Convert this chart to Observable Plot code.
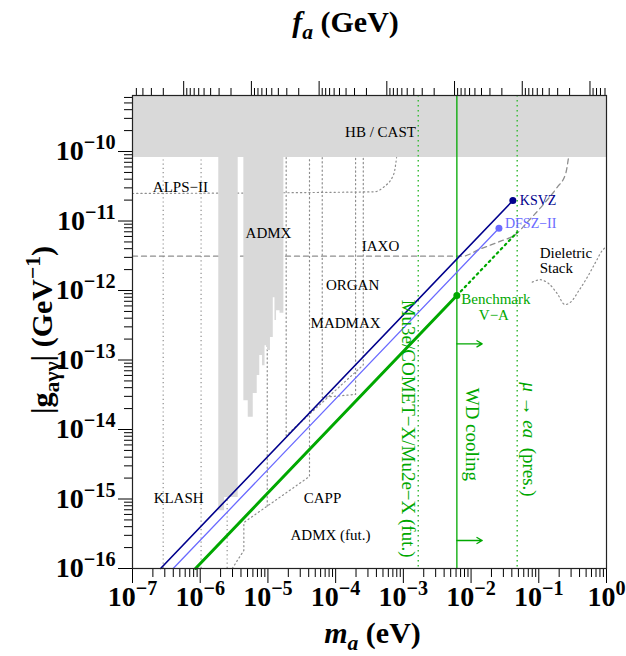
<!DOCTYPE html>
<html><head><meta charset="utf-8">
<script src="https://cdn.jsdelivr.net/npm/d3@7"></script>
<script src="https://cdn.jsdelivr.net/npm/@observablehq/plot@0.6"></script>
<style>body{margin:0;background:#fff;}</style>
</head><body><div id="chart"></div>
<script>
// ---------- scales / ticks ----------
const xDomain = [1e-7, 1];
const yDomain = [1e-16, 6.4e-10];
const mTicks = [1e-7, 1e-6, 1e-5, 1e-4, 1e-3, 1e-2, 1e-1, 1];
const gTicks = [1e-16, 1e-15, 1e-14, 1e-13, 1e-12, 1e-11, 1e-10];
const faTicks = [1e13, 1e12, 1e11, 1e10, 1e9, 1e8, 1e7];
const faToMa = 5.7e6; // m_a [eV] = 5.7e6 / f_a [GeV]

// ---------- excluded regions ----------
const hbCastG = 8.2e-11;
const admxLowM = [1.88e-6, 2.29e-6, 3.64e-6];
const admxLowG = [6.8e-16, 1.05e-15, 1.05e-15];
const admxM = [4.41e-6, 5.12e-6, 6.07e-6, 6.95e-6, 7.58e-6, 8.32e-6, 9.06e-6, 9.86e-6, 1.09e-5, 1.20e-5, 1.27e-5, 1.34e-5, 1.51e-5, 1.72e-5];
const admxG = [2.6e-14, 1.5e-14, 3.3e-14, 6.0e-14, 1.16e-13, 8.3e-14, 1.6e-13, 1.37e-13, 2.1e-13, 7.9e-13, 3.7e-13, 5.1e-13, 4.7e-13, 4.7e-13];

// ---------- projected sensitivities (gray) ----------
const klashM = [2.84e-7, 1.03e-6];
const admxFutLeftM = [2.5e-6];
const admxFutM = [2.97e-6, 4.41e-6, 4.41e-6, 4.11e-5, 4.11e-5];
const admxFutG = [1e-16, 1.82e-16, 4.59e-16, 2.11e-15, 8.2e-11];
const cappM = [9.77e-6, 9.77e-6];
const cappG = [7.9e-16, 8.2e-11];
const madmaxM = [1.86e-5, 1.86e-5, 2.56e-4, 2.56e-4];
const madmaxG = [8.2e-11, 8.2e-15, 8.5e-14, 8.2e-11];
const organM = [6.34e-5, 6.34e-5, 1.97e-4, 1.97e-4];
const organG = [8.2e-11, 2.9e-14, 3.2e-14, 8.2e-11];
const alpsM = [1e-7, 3.66e-4, 5.15e-4, 7.24e-4, 7.94e-4];
const alpsG = [2.49e-11, 2.63e-11, 3.09e-11, 4.78e-11, 8.2e-11];
const iaxoM = [1e-7, 7.41e-3, 1.38e-2, 2.73e-2, 4.54e-2, 6.76e-2, 0.119, 0.187, 0.249, 0.273];
const iaxoG = [3.12e-12, 3.12e-12, 3.98e-12, 5.13e-12, 6.4e-12, 9.6e-12, 1.77e-11, 3.06e-11, 4.78e-11, 7.85e-11];
const dielM = [0.0802, 0.106, 0.141, 0.188, 0.240, 0.295, 0.391, 0.52, 0.69, 0.867, 1];
const dielG = [1.32e-12, 1.43e-12, 1.25e-12, 8.97e-13, 6.3e-13, 6.8e-13, 1.0e-12, 1.55e-12, 2.55e-12, 3.77e-12, 4.3e-12];

// ---------- model lines ----------
const ksvzM = [2.6e-7, 0.0414];
const ksvzG = [1e-16, 1.97e-11];
const dfszM = [3.99e-7, 0.0258];
const dfszG = [1e-16, 7.87e-12];
const benchM = [8.53e-7, 6.17e-3];
const benchG = [1e-16, 8.47e-13];
const benchExtM = [6.17e-3, 0.048];
const benchExtG = [8.47e-13, 6.9e-12];

// ---------- flavour bounds (green verticals) ----------
const mu3eM = 1.66e-3;
const wdM = 6.17e-3;
const muEaM = 0.048;
const wdArrowG = [1.71e-13, 2.53e-16];
const wdArrowEndM = 0.0146;

// ---------- labels ----------
const regionText = ["HB / CAST", "ALPS−II", "ADMX", "IAXO", "ORGAN", "MADMAX", "KLASH", "CAPP", "ADMX (fut.)"];
const regionM = [4.6e-4, 5.1e-7, 1.02e-5, 4.6e-4, 1.78e-4, 1.4e-4, 4.8e-7, 6.4e-5, 8.4e-5];
const regionG = [1.88e-10, 3.03e-11, 6.6e-12, 4.3e-12, 1.18e-12, 3.35e-13, 1.02e-15, 1.02e-15, 3.0e-16];
const dielText = ["Dieletric", "Stack"];
const dielTextM = [0.103, 0.103];
const dielTextG = [3.48e-12, 2.09e-12];
const mu3eText = "Mu3e/COMET−X/Mu2e−X (fut.)";
const wdText = "WD cooling";
const muEaText = "*μ* → *ea*  (pres.)";
const mu3eTextG = 1.03e-14, wdTextG = 8.5e-15, muEaTextG = 7.2e-15;

// ---------- build ----------
const navy = "#00008c", blue = "#6a6aff", green = "#00a800", greenDot = "#3cbc3c", gray = "#8e8e8e", fillGray = "#d9d9d9";
const zip = (a, b) => a.map((v, i) => ({m: v, g: b[i]}));
const minors = (lo, hi) => { const out = []; for (let e = -20; e <= 20; e++) for (let k = 2; k <= 9; k++) { const v = k * 10 ** e; if (v > lo * 1.0001 && v < hi * 0.9999) out.push(v); } return out; };
const sup = e => `10^{${e < 0 ? "−" : ""}${Math.abs(e)}}`;
const mMinor = minors(xDomain[0], xDomain[1]);
const gMinor = minors(yDomain[0], yDomain[1]);
const faMinor = minors(faToMa / xDomain[1], faToMa / xDomain[0]).map(f => faToMa / f);
const dotted = {stroke: gray, strokeWidth: 1.2, strokeDasharray: "1.2,3"};
const hbTop = () => hbCastG;
const tickFont = {fontSize: 28, fontWeight: "bold", label: null, stroke: "black"};
const vText = (t, m, g, dx) => Plot.text([t], {x: () => m, y: () => g, rotate: 90, dx, fontSize: 19, fill: green});

const chart = Plot.plot({
  width: 626, height: 656,
  marginLeft: 132, marginRight: 20, marginTop: 95, marginBottom: 88,
  style: {fontFamily: "'Liberation Serif','Times New Roman',serif", background: "white", color: "black", overflow: "visible"},
  x: {type: "log", domain: xDomain, axis: null},
  y: {type: "log", domain: yDomain, axis: null},
  marks: [
    // gray projected sensitivities
    Plot.ruleX(klashM, {y1: () => 1e-16, y2: hbTop, ...dotted}),
    Plot.ruleX(admxFutLeftM, {y1: () => 1e-16, y2: hbTop, ...dotted}),
    Plot.line(zip(admxFutM, admxFutG), {x: "m", y: "g", ...dotted}),
    Plot.line(zip(cappM, cappG), {x: "m", y: "g", ...dotted}),
    Plot.line(zip(madmaxM, madmaxG), {x: "m", y: "g", ...dotted}),
    Plot.line(zip(organM, organG), {x: "m", y: "g", ...dotted}),
    Plot.line(zip(alpsM, alpsG), {x: "m", y: "g", curve: "monotone-x", ...dotted}),
    Plot.line(zip(dielM, dielG), {x: "m", y: "g", curve: "catmull-rom", ...dotted}),
    Plot.line(zip(iaxoM, iaxoG), {x: "m", y: "g", curve: "monotone-x", stroke: gray, strokeWidth: 1.3, strokeDasharray: "5,4"}),
    // excluded regions
    Plot.rect([0], {x1: () => xDomain[0], x2: () => xDomain[1], y1: hbTop, y2: () => yDomain[1], fill: fillGray}),
    Plot.areaY(zip(admxLowM, admxLowG), {x: "m", y1: "g", y2: hbTop, curve: "step-after", fill: fillGray}),
    Plot.areaY(zip(admxM, admxG), {x: "m", y1: "g", y2: hbTop, curve: "step-after", fill: fillGray}),
    // green flavour bounds
    Plot.ruleX([mu3eM], {stroke: greenDot, strokeWidth: 1.5, strokeDasharray: "1.5,3.5"}),
    Plot.ruleX([muEaM], {stroke: greenDot, strokeWidth: 1.5, strokeDasharray: "1.5,3.5"}),
    Plot.ruleX([wdM], {stroke: green, strokeWidth: 1.3}),
    Plot.arrow(wdArrowG, {x1: () => wdM, x2: () => wdArrowEndM, y1: d => d, y2: d => d, stroke: green, strokeWidth: 1.3, headLength: 7}),
    // model lines
    Plot.line(zip(ksvzM, ksvzG), {x: "m", y: "g", stroke: navy, strokeWidth: 1.6}),
    Plot.line(zip(dfszM, dfszG), {x: "m", y: "g", stroke: blue, strokeWidth: 1.3}),
    Plot.line(zip(benchExtM, benchExtG), {x: "m", y: "g", stroke: green, strokeWidth: 2.2, strokeDasharray: "1.8,4"}),
    Plot.line(zip(benchM, benchG), {x: "m", y: "g", stroke: green, strokeWidth: 3}),
    Plot.dot([0], {x: () => ksvzM[1], y: () => ksvzG[1], r: 3.5, fill: navy}),
    Plot.dot([0], {x: () => dfszM[1], y: () => dfszG[1], r: 3.5, fill: blue}),
    Plot.dot([0], {x: () => benchM[1], y: () => benchG[1], r: 3.5, fill: green}),
    // labels
    Plot.text(regionText, {x: (d, i) => regionM[i], y: (d, i) => regionG[i], text: d => d, fontSize: 15, fill: "black"}),
    Plot.text(dielText, {x: (d, i) => dielTextM[i], y: (d, i) => dielTextG[i], text: d => d, fontSize: 15, textAnchor: "start", fill: "black"}),
    Plot.text(["KSVZ"], {x: () => ksvzM[1], y: () => ksvzG[1], dx: 7, textAnchor: "start", fontSize: 14, fill: navy}),
    Plot.text(["DFSZ−II"], {x: () => dfszM[1], y: () => dfszG[1], dx: 6, dy: -5, textAnchor: "start", fontSize: 14, fill: blue}),
    Plot.text(["Benchmark"], {x: () => benchM[1], y: () => benchG[1], dx: 39, dy: 4, fontSize: 15, fill: green}),
    Plot.text(["V−A"], {x: () => benchM[1], y: () => benchG[1], dx: 37, dy: 20, fontSize: 15, fill: green}),
    vText(mu3eText, mu3eM, mu3eTextG, -10),
    vText(wdText, wdM, wdTextG, 15),
    vText(muEaText, muEaM, muEaTextG, 12),
    // axes
    Plot.axisX(mTicks, {anchor: "bottom", tickSize: 15, tickPadding: 3, tickFormat: d => sup(Math.round(Math.log10(d))), ...tickFont}),
    Plot.axisX(mMinor, {anchor: "bottom", tickSize: 9, tickFormat: () => "", label: null, stroke: "black"}),
    Plot.axisX(faTicks.map(f => faToMa / f), {anchor: "top", tickSize: 15, tickPadding: 5, tickFormat: d => sup(Math.round(Math.log10(faToMa / d))), ...tickFont}),
    Plot.axisX(faMinor, {anchor: "top", tickSize: 8, tickFormat: () => "", label: null, stroke: "black"}),
    Plot.axisY(gTicks, {anchor: "left", tickSize: 14, tickPadding: 3, tickFormat: d => sup(Math.round(Math.log10(d))), ...tickFont}),
    Plot.axisY(gMinor, {anchor: "left", tickSize: 8, tickFormat: () => "", label: null, stroke: "black"}),
    Plot.frame({stroke: "#222", strokeWidth: 1.2}),
    // titles
    Plot.text(["*f*_<a> (GeV)"], {frameAnchor: "top", dx: -24, dy: -73, lineAnchor: "middle", textAnchor: "middle", fontSize: 30, fontWeight: "bold", fill: "black"}),
    Plot.text(["*m*_<a> (eV)"], {frameAnchor: "bottom", dx: 3, dy: 65, lineAnchor: "middle", textAnchor: "middle", fontSize: 30, fontWeight: "bold", fill: "black"}),
    Plot.text(["|g_{aγγ}| (GeV^{−1})"], {frameAnchor: "left", dx: -90, dy: -2, rotate: -90, lineAnchor: "middle", textAnchor: "middle", fontSize: 30, fontWeight: "bold", fill: "black"})
  ]
});
document.getElementById("chart").appendChild(chart);

// rich text: ^{sup}, _{sub}, _<italic sub>, *italic*
const NS = "http://www.w3.org/2000/svg";
function rich(el) {
  if (el.querySelector("tspan")) return;
  const s = el.textContent;
  if (!/(\^\{|_\{|_<|\*)/.test(s)) return;
  const fs = parseFloat(getComputedStyle(el).fontSize) || 15;
  const parts = s.split(/(\^\{[^}]*\}|_\{[^}]*\}|_<[^>]*>|\*[^*]*\*)/).filter(p => p !== "");
  el.textContent = "";
  let shift = 0;
  for (const p of parts) {
    const t = document.createElementNS(NS, "tspan");
    let target = 0, content = p, small = false, italic = false;
    if (p.startsWith("^{")) { target = -0.4; content = p.slice(2, -1); small = true; }
    else if (p.startsWith("_{")) { target = 0.22; content = p.slice(2, -1); small = true; }
    else if (p.startsWith("_<")) { target = 0.22; content = p.slice(2, -1); small = true; italic = true; }
    else if (p.startsWith("*")) { content = p.slice(1, -1); italic = true; }
    const dy = (target - shift) * fs;
    if (Math.abs(dy) > 0.01) t.setAttribute("dy", dy.toFixed(2));
    shift = target;
    if (small) t.setAttribute("font-size", (fs * 0.72).toFixed(2) + "px");
    if (italic) t.setAttribute("font-style", "italic");
    t.textContent = content;
    el.appendChild(t);
  }
}
chart.querySelectorAll("text").forEach(rich);
</script>
</body></html>
